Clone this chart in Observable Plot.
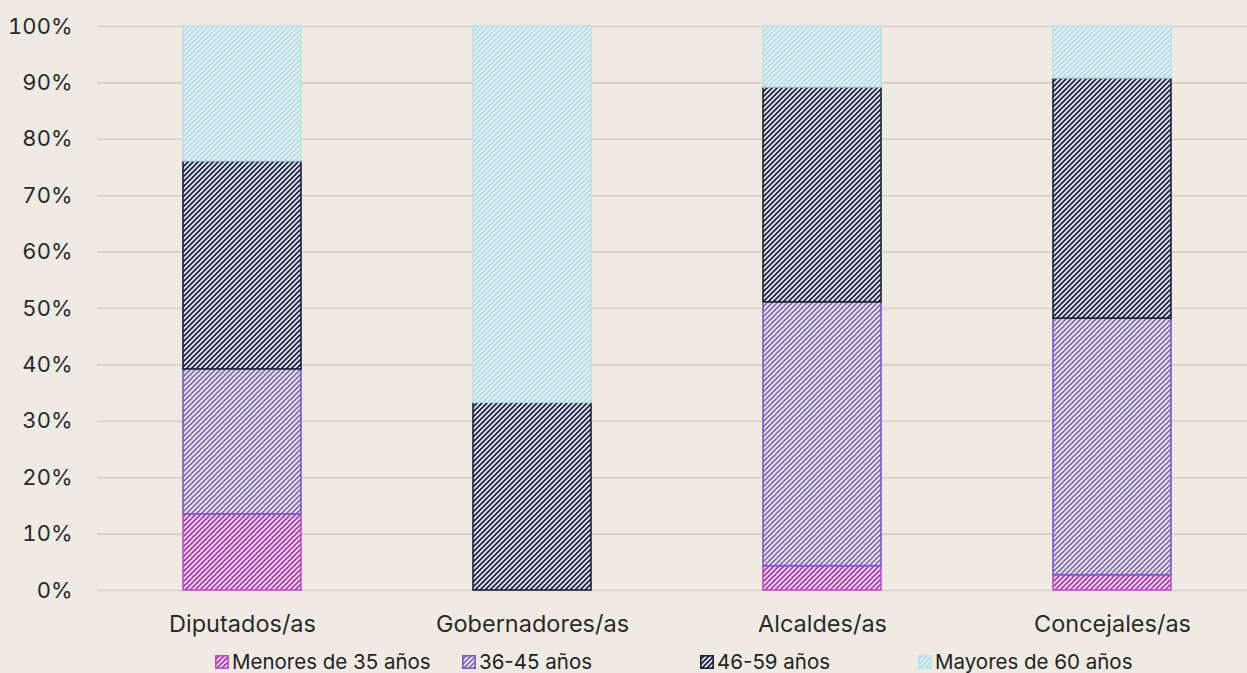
<!DOCTYPE html>
<html>
<head>
<meta charset="utf-8">
<script src="https://cdn.jsdelivr.net/npm/d3@7"></script>
<script src="https://cdn.jsdelivr.net/npm/@observablehq/plot@0.6"></script>
<style>
  html, body { margin: 0; padding: 0; background: #efebe3; overflow: hidden; }
  #chart { width: 1247px; height: 673px; position: relative; font-family: Inter, Roboto, sans-serif; }
  #legend { position: absolute; top: 645px; left: 0; width: 1247px; height: 28px; font-size: 20.5px; color: #222; }
  .item { position: absolute; top: 4px; display: flex; align-items: center; }
  .sw { width: 14px; height: 14px; margin-right: 3px; }
</style>
</head>
<body>
<svg width="0" height="0" style="position:absolute">
  <defs id="pdefs"></defs>
</svg>
<div id="chart"></div>
<script>
const categories = ["Diputados/as", "Gobernadores/as", "Alcaldes/as", "Concejales/as"];
const series = ["Menores de 35 años", "36-45 años", "46-59 años", "Mayores de 60 años"];
const menores35 = [13.5, 0, 4.3, 2.7];
const de36a45   = [25.7, 0, 46.8, 45.5];
const de46a59   = [36.9, 33.3, 38.1, 42.6];
const mayores60 = [23.9, 66.7, 10.8, 9.2];
const yTicks = [0, 10, 20, 30, 40, 50, 60, 70, 80, 90, 100];

const seriesValues = [menores35, de36a45, de46a59, mayores60];
const styles = [
  {bg: "#f7d9f6", line: "#a23aa8", border: "#c24bc8"},
  {bg: "#ece4f7", line: "#7d6ea6", border: "#7a58cf"},
  {bg: "#e0e3f3", line: "#1d2238", border: "#1d2238"},
  {bg: "#e3f2f4", line: "#b4dce2", border: "#bde2e8"}
];

// patterns
const defs = d3.select("#pdefs");
styles.forEach((s, i) => {
  const p = defs.append("pattern")
    .attr("id", "pat" + i)
    .attr("patternUnits", "userSpaceOnUse")
    .attr("width", 5).attr("height", 5);
  p.append("rect").attr("width", 5).attr("height", 5).attr("fill", s.bg);
  p.append("path")
    .attr("d", "M-1,1 L1,-1 M0,5 L5,0 M4,6 L6,4")
    .attr("stroke", s.line).attr("stroke-width", 1.7).attr("stroke-linecap", "square");
});

// stacked table
const table = [];
categories.forEach((c, ci) => {
  let acc = 0;
  series.forEach((s, si) => {
    const v = seriesValues[si][ci];
    table.push({category: c, series: s, si, y1: acc, y2: acc + v, value: v});
    acc += v;
  });
});

const marks = [
  Plot.ruleY(yTicks, {stroke: "#d5d1c7", strokeWidth: 1.6})
];
series.forEach((s, si) => {
  const rows = table.filter(d => d.si === si && d.value > 0);
  marks.push(Plot.barY(rows, {
    x: "category", y1: "y1", y2: "y2",
    fill: "url(#pat" + si + ")",
    stroke: styles[si].border, strokeWidth: 1.6
  }));
});

const chart = Plot.plot({
  width: 1247,
  height: 645,
  marginLeft: 97,
  marginRight: 0,
  marginTop: 26,
  marginBottom: 55,
  style: {background: "transparent", fontFamily: "Inter, Roboto, sans-serif", color: "#2a2a2a"},
  x: {domain: categories, range: [97, 1257], paddingInner: 0.593, paddingOuter: 0.2965, label: null},
  y: {domain: [0, 100], label: null},
  marks: [
    ...marks,
    Plot.axisY({ticks: yTicks, tickFormat: d => d + "%", tickSize: 0, tickPadding: 25, fontSize: 22, fill: "#2a2a2a", label: null}),
    Plot.axisX({tickSize: 0, tickPadding: 25, fontSize: 23.5, fill: "#2a2a2a", label: null})
  ]
});
document.getElementById("chart").appendChild(chart);

// legend
const legend = d3.select("#chart").append("div").attr("id", "legend");
const lefts = [215, 462, 700, 918];
series.forEach((s, i) => {
  const it = legend.append("div").attr("class", "item").style("left", lefts[i] + "px");
  it.append("div").attr("class", "sw")
    .html(`<svg width="14" height="14" style="display:block"><rect x="0.8" y="0.8" width="12.4" height="12.4" fill="url(#pat${i})" stroke="${styles[i].border}" stroke-width="1.6"/></svg>`);
  it.append("span").text(s);
});
</script>
</body>
</html>
